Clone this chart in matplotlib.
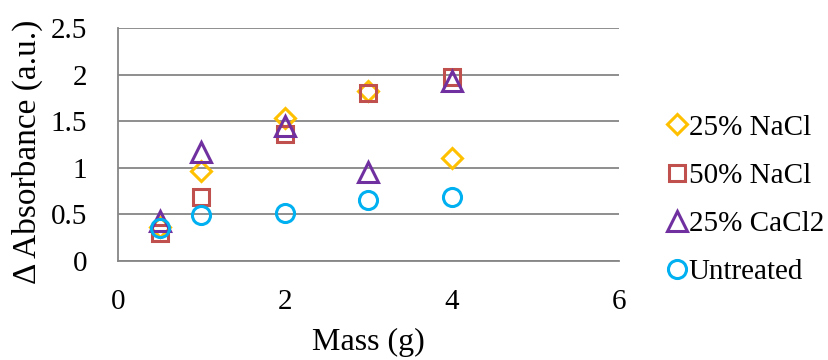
import matplotlib
matplotlib.use("Agg")
import matplotlib.pyplot as plt

# Absorbance change versus sample mass for each treatment
mass = [0.5, 1, 2, 3, 4]
nacl_25 = [0.37, 0.97, 1.53, 1.83, 1.11]
nacl_50 = [0.30, 0.69, 1.36, 1.80, 1.97]
cacl2_25 = [0.43, 1.17, 1.45, 0.95, 1.93]
untreated = [0.35, 0.49, 0.52, 0.65, 0.69]

series_labels = ["25% NaCl", "50% NaCl", "25% CaCl2", "Untreated"]
x_ticks = [0, 2, 4, 6]
y_ticks = [0, 0.5, 1, 1.5, 2, 2.5]
y_tick_labels = ["0", "0.5", "1", "1.5", "2", "2.5"]

plt.rcParams["font.family"] = ["Liberation Serif", "DejaVu Serif"]
plt.rcParams["font.size"] = 21

fig = plt.figure(figsize=(8.29, 3.6), dpi=100)
ax = fig.add_axes([0.1423, 0.275, 0.6044, 0.647])

grid_color = "#868686"
styles = [
    dict(marker="D", ms=10, color="#FFC000"),
    dict(marker="s", ms=12, color="#C0504D"),
    dict(marker="^", ms=14, color="#7030A0"),
    dict(marker="o", ms=13, color="#00B0F0"),
]

handles = []
for ys, st, lab in zip([nacl_25, nacl_50, cacl2_25, untreated], styles, series_labels):
    h, = ax.plot(mass, ys, linestyle="none", marker=st["marker"], markersize=st["ms"],
                 markerfacecolor="none", markeredgecolor=st["color"],
                 markeredgewidth=2.2, label=lab, clip_on=False, zorder=3)
    handles.append(h)

ax.set_xlim(0, 6)
ax.set_ylim(0, 2.5)
ax.set_xticks(x_ticks)
ax.set_yticks(y_ticks)
ax.set_yticklabels(y_tick_labels)
ax.tick_params(axis="both", length=0)
ax.tick_params(axis="y", pad=22)
ax.tick_params(axis="x", pad=20)

ax.yaxis.grid(True, color=grid_color, linewidth=1.3)
ax.set_axisbelow(True)
for side in ["top", "right"]:
    ax.spines[side].set_visible(False)
for side in ["left", "bottom"]:
    ax.spines[side].set_color(grid_color)
    ax.spines[side].set_linewidth(1.3)

ax.set_xlabel("Mass (g)", fontsize=23)
ax.xaxis.set_label_coords(0.5, -0.287)
ax.set_ylabel("Δ Absorbance (a.u.)", fontsize=24)
ax.yaxis.set_label_coords(-0.149, 0.468)

fig.legend(handles=handles, labels=series_labels, loc="center left",
           bbox_to_anchor=(0.7923, 0.445), frameon=False, handlelength=0.6,
           handletextpad=0.1, labelspacing=0.75, borderaxespad=0)

fig.savefig("out.png", dpi=100)
